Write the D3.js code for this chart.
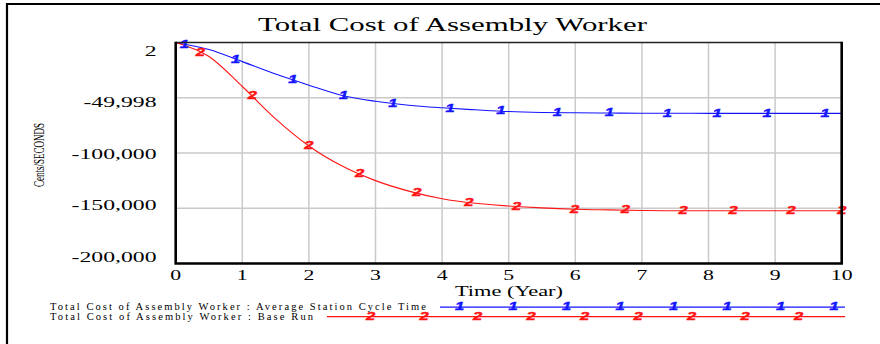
<!DOCTYPE html>
<html>
<head>
<meta charset="utf-8">
<script src="https://cdn.jsdelivr.net/npm/d3@7"></script>
<style>
  html, body { margin: 0; padding: 0; background: #fff; }
  svg { display: block; }
</style>
</head>
<body>
<svg id="chart" width="880" height="344"></svg>
<script>
// Time axis (years) and the two simulated runs of total assembly worker cost
const years = [0, 0.5, 1, 1.5, 2, 2.5, 3, 3.5, 4, 4.5, 5, 5.5, 6, 6.5, 7, 7.5, 8, 8.5, 9, 9.5, 10];
const avgStationCycleTime = [2, -6400, -17300, -28600, -38600, -47900, -53200, -56800, -59100, -60900,
  -62500, -63300, -63600, -63800, -64000, -64000, -64100, -64100, -64100, -64100, -64100];
const baseRun = [2, -12700, -39800, -69100, -93600, -111800, -125000, -134500, -141400, -145500,
  -147900, -149700, -150900, -151500, -152000, -152300, -152300, -152300, -152300, -152300, -152300];

// Run identifiers drawn along each curve
const marker1Years = [0.13, 0.9, 1.76, 2.52, 3.26, 4.12, 4.88, 5.73, 6.51, 7.38, 8.13, 8.88, 9.75];
const marker2Years = [0.37, 1.15, 2.0, 2.76, 3.62, 4.4, 5.12, 5.99, 6.75, 7.62, 8.37, 9.24, 10.0];

const yTickValues = [2, -49998, -100000, -150000, -200000];
const yTickLabels = ["2", "-49,998", "-100,000", "-150,000", "-200,000"];
const xTickValues = [0, 1, 2, 3, 4, 5, 6, 7, 8, 9, 10];

const seriesNames = [
  "Total Cost of Assembly Worker : Average Station Cycle Time",
  "Total Cost of Assembly Worker : Base Run"
];

const svg = d3.select("#chart");
const serif = "'Liberation Serif', 'Times New Roman', serif";
const SX = 1.58; // horizontal stretch of the lettering

const x = d3.scaleLinear().domain([0, 10]).range([175.7, 841.7]);
const y = d3.scaleLinear().domain([2, -200000]).range([42.5, 263.5]);

// outer frame
svg.append("path")
  .attr("d", "M7,344 V4 H880")
  .attr("fill", "none").attr("stroke", "#000").attr("stroke-width", 2.2);

// title
svg.append("text")
  .attr("x", 258).attr("y", 30.5)
  .attr("font-family", serif).attr("font-size", 19)
  .attr("textLength", 389).attr("lengthAdjust", "spacingAndGlyphs")
  .text("Total Cost of Assembly Worker");

// grid
const grid = svg.append("g").attr("stroke", "#cacaca").attr("stroke-width", 1.5);
grid.selectAll("line.v").data(xTickValues.slice(1, -1)).join("line")
  .attr("class", "v")
  .attr("x1", d => x(d)).attr("x2", d => x(d))
  .attr("y1", y(2)).attr("y2", y(-200000));
grid.selectAll("line.h").data(yTickValues.slice(1, -1)).join("line")
  .attr("class", "h")
  .attr("x1", x(0)).attr("x2", x(10))
  .attr("y1", d => y(d)).attr("y2", d => y(d));

// y tick labels (spread slightly tighter than the grid)
const yLabelPos = d3.scaleLinear().domain([2, -200000]).range([56, 261.5]);
svg.append("g").selectAll("text").data(yTickValues).join("text")
  .attr("transform", d => `translate(156.5,${yLabelPos(d)}) scale(${SX},1)`)
  .attr("text-anchor", "end")
  .attr("font-family", serif).attr("font-size", 15)
  .text((d, i) => yTickLabels[i]);

// x tick labels
svg.append("g").selectAll("text").data(xTickValues).join("text")
  .attr("transform", d => `translate(${x(d)},280) scale(1.45,1)`)
  .attr("text-anchor", "middle")
  .attr("font-family", serif).attr("font-size", 15)
  .text(d => d);

// axis titles
svg.append("text")
  .attr("x", 455).attr("y", 296)
  .attr("font-family", serif).attr("font-size", 14)
  .attr("textLength", 108).attr("lengthAdjust", "spacingAndGlyphs")
  .text("Time (Year)");

svg.append("text")
  .attr("transform", "translate(44,187) rotate(-90)")
  .attr("font-family", serif).attr("font-size", 15)
  .attr("textLength", 64).attr("lengthAdjust", "spacingAndGlyphs")
  .text("Cents/SECONDS");

// series
const series = [
  { values: avgStationCycleTime, color: "#1414ff", label: "1", markers: marker1Years },
  { values: baseRun, color: "#ff1414", label: "2", markers: marker2Years }
];

const line = d3.line()
  .x((d, i) => x(years[i]))
  .y(d => y(d))
  .curve(d3.curveMonotoneX);

function valueAt(values, t) {
  const i = Math.min(d3.bisectRight(years, t), years.length - 1);
  const i0 = Math.max(i - 1, 0);
  if (i === i0) return values[i];
  const f = (t - years[i0]) / (years[i] - years[i0]);
  return values[i0] + (values[i] - values[i0]) * Math.max(0, Math.min(1, f));
}

series.forEach(s => {
  svg.append("path")
    .datum(s.values)
    .attr("fill", "none")
    .attr("stroke", s.color)
    .attr("stroke-width", 1.1)
    .attr("d", line);
});

const markerFont = "'Liberation Sans', Arial, sans-serif";
function drawMarker(sel, color, label) {
  sel.attr("text-anchor", "middle")
    .attr("dominant-baseline", "central")
    .attr("font-family", markerFont).attr("font-size", 10)
    .attr("font-weight", "bold").attr("font-style", "italic")
    .attr("fill", color)
    .attr("stroke", color).attr("stroke-width", 0.4)
    .text(label);
}
series.forEach(s => {
  svg.append("g").selectAll("text").data(s.markers).join("text")
    .attr("transform", t => `translate(${x(t)},${y(valueAt(s.values, t))}) scale(1.65,1)`)
    .call(drawMarker, s.color, s.label);
});

// plot frame
svg.append("line").attr("x1", x(0)).attr("x2", x(10)).attr("y1", 42.5).attr("y2", 42.5)
  .attr("stroke", "#222").attr("stroke-width", 1.6);
svg.append("path")
  .attr("d", `M${x(0)},41.7 V${y(-200000)} H${x(10)} V41.7`)
  .attr("fill", "none").attr("stroke", "#000").attr("stroke-width", 2.6);

// legend
const legend = [
  { name: seriesNames[0], textLen: 376, y: 310, x0: 440, first: 459.5, s: series[0] },
  { name: seriesNames[1], textLen: 263, y: 319.5, x0: 327, first: 370.5, s: series[1] }
];
const legendX1 = 845, legendStep = 53.5;
legend.forEach(l => {
  svg.append("text")
    .attr("x", 50).attr("y", l.y)
    .attr("font-family", serif).attr("font-size", 10.5)
    .attr("textLength", l.textLen).attr("lengthAdjust", "spacing")
    .text(l.name);
  const ly = l.y - 2.8;
  svg.append("line")
    .attr("x1", l.x0).attr("x2", legendX1).attr("y1", ly).attr("y2", ly)
    .attr("stroke", l.s.color).attr("stroke-width", 1.2);
  const pos = d3.range(l.first, legendX1, legendStep);
  svg.append("g").selectAll("text").data(pos).join("text")
    .attr("transform", p => `translate(${p},${ly}) scale(1.65,1)`)
    .call(drawMarker, l.s.color, l.s.label);
});
</script>
</body>
</html>
